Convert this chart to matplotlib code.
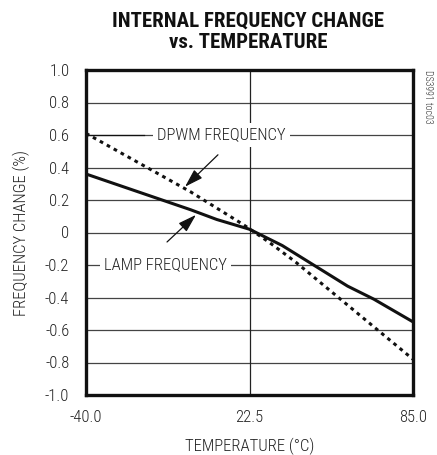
import matplotlib
matplotlib.use("Agg")
import matplotlib.pyplot as plt
from matplotlib import font_manager

names = {f.name for f in font_manager.fontManager.ttflist}
fam = 'Roboto Condensed' if 'Roboto Condensed' in names else 'Archivo Narrow'
plt.rcParams['font.family'] = [fam, 'DejaVu Sans']

temp_lamp = [-40, -20, 0, 10, 22.5, 35, 48, 60, 70, 85]
lamp = [0.36, 0.25, 0.14, 0.08, 0.02, -0.08, -0.21, -0.33, -0.41, -0.55]
temp_dpwm = [-40, -20, 0, 20, 30, 40, 55, 70, 85]
dpwm = [0.61, 0.43, 0.25, 0.05, -0.06, -0.18, -0.38, -0.58, -0.78]

xticks = [-40.0, 22.5, 85.0]
xticklabels = ['-40.0', '22.5', '85.0']
yticks = [1.0, 0.8, 0.6, 0.4, 0.2, 0.0, -0.2, -0.4, -0.6, -0.8, -1.0]
yticklabels = ['1.0', '0.8', '0.6', '0.4', '0.2', '0', '-0.2', '-0.4', '-0.6', '-0.8', '-1.0']

fig = plt.figure(figsize=(4.37, 4.55), dpi=100)
ax = fig.add_axes([86/437, 60/455, 327/437, 325/455])
ax.set_xlim(-40, 85)
ax.set_ylim(-1.0, 1.0)

for y in yticks[1:-1]:
    ax.axhline(y, color='#444444', lw=0.9, zorder=1)
ax.axvline(22.5, color='#222222', lw=0.9, zorder=1)

ax.plot(temp_lamp, lamp, color='#111111', lw=2.2, zorder=3)
ax.plot(temp_dpwm, dpwm, color='#111111', lw=2.2, linestyle=(0, (1.2, 1.4)), zorder=3)

tc = '#222222'
fs = 12
ax.set_xticks(xticks)
ax.set_xticklabels(xticklabels, fontsize=fs, color=tc, fontweight='light')
ax.set_yticks(yticks)
ax.set_yticklabels(yticklabels, fontsize=fs, color=tc, fontweight='light')
ax.tick_params(length=0)
ax.tick_params(axis='y', pad=12)
ax.tick_params(axis='x', pad=11)
for s in ax.spines.values():
    s.set_linewidth(2.4)
    s.set_color('#111111')

ax.set_xlabel('TEMPERATURE (°C)', fontsize=fs, labelpad=9, color=tc, fontweight='light')
ax.set_ylabel('FREQUENCY CHANGE (%)', fontsize=fs, labelpad=11, color=tc, fontweight='light')

ax.text(-12.8, 0.6, 'DPWM FREQUENCY', fontsize=fs, va='center', ha='left', color=tc, fontweight='light',
        bbox=dict(facecolor='white', edgecolor='none', pad=3), zorder=4)
ax.text(-33.0, -0.2, 'LAMP FREQUENCY', fontsize=fs, va='center', ha='left', color=tc, fontweight='light',
        bbox=dict(facecolor='white', edgecolor='none', pad=3), zorder=4)
ax.plot([-40, -17.8], [0.6, 0.6], color='#111111', lw=0.9, zorder=5)

ax.annotate('', xy=(-2.9, 0.27), xytext=(11.2, 0.49),
            arrowprops=dict(arrowstyle='-|>,head_length=0.8,head_width=0.25', color='#111111', lw=0.9, mutation_scale=14), zorder=5)
ax.annotate('', xy=(2.8, 0.12), xytext=(-9.8, -0.07),
            arrowprops=dict(arrowstyle='-|>,head_length=0.8,head_width=0.25', color='#111111', lw=0.9, mutation_scale=14), zorder=5)

fig.text(248/437, 1 - 12/455, 'INTERNAL FREQUENCY CHANGE\nvs. TEMPERATURE', ha='center', va='top',
         fontsize=15, fontweight='bold', linespacing=1.1, color='#111111')
fig.text(428/437, 1 - 70/455, 'DS3991 toc03', rotation=-90, ha='center', va='top', fontsize=7,
         color='#333333', fontweight='light')

fig.savefig('out.png', dpi=100)
